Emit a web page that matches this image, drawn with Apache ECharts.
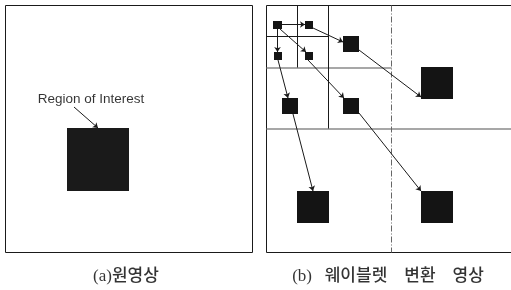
<!DOCTYPE html>
<html>
<head>
<meta charset="utf-8">
<script src="https://cdn.jsdelivr.net/npm/echarts@6/dist/echarts.min.js"></script>
<style>
  html, body { margin: 0; padding: 0; background: #fff; }
  #chart { width: 511px; height: 290px; }
</style>
</head>
<body>
<div id="chart"></div>
<script>
// diagram space = 511 x 290, y grows downward

// (a) original image frame
const frameA = [[5.5, 5.5], [252.5, 5.5], [252.5, 252.5], [5.5, 252.5], [5.5, 5.5]];

// (b) subband division lines: [x0, y0, x1, y1, kind]
const bandLines = [
  [266.5, 5.5, 511, 5.5, 'dark'],
  [266.5, 252.5, 511, 252.5, 'dark'],
  [266.5, 5.5, 266.5, 252.5, 'dark'],
  [266.5, 128.5, 511, 128.5, 'gray'],
  [391.5, 5.5, 391.5, 252.5, 'dash'],
  [266.5, 67.5, 391.5, 67.5, 'gray'],
  [328.5, 5.5, 328.5, 128.5, 'dark'],
  [297.5, 5.5, 297.5, 67.5, 'dark'],
  [266.5, 36.5, 328.5, 36.5, 'dark']
];

// dark blocks: [x0, y0, x1, y1]
const roiBlock = [[67, 128, 129, 191]];
const coefBlocks = [
  [273, 21, 282, 29],   // LL3
  [305, 21, 313, 29],   // HL3
  [274, 52, 282, 60],   // LH3
  [305, 52, 313, 60],   // HH3
  [343, 36, 359, 52],   // HL2
  [282, 98, 298, 114],  // LH2
  [343, 98, 359, 114],  // HH2
  [421, 67, 453, 99],   // HL1
  [297, 191, 329, 223], // LH1
  [421, 191, 453, 223]  // HH1
];

// parent -> child arrows
const arrows = [
  [[282, 24.5], [305, 24.5]],
  [[277.5, 29], [277.5, 52]],
  [[280, 29], [306, 52]],
  [[313, 28], [343, 42]],
  [[359, 50], [421, 97]],
  [[308, 60], [344, 98]],
  [[359, 113], [421, 191]],
  [[278, 60], [288, 98]],
  [[293, 114], [313, 191]]
];

const roiPointer = [[[74, 107], [98, 128]]];

const labels = [
  [91, 99, 'Region of Interest', 'roi'],
  [126, 277, '(a)원영상', 'cap'],
  [388, 277, '(b)   웨이블렛    변환    영상', 'cap']
];

const chart = echarts.init(document.getElementById('chart'));

function rectItem(fill) {
  return function (params, api) {
    const p0 = api.coord([api.value(0), api.value(1)]);
    const p1 = api.coord([api.value(2), api.value(3)]);
    return {
      type: 'rect',
      shape: { x: p0[0], y: p0[1], width: p1[0] - p0[0], height: p1[1] - p0[1] },
      style: { fill: fill }
    };
  };
}

const lineStyles = {
  dark: { color: '#1a1a1a', width: 1, type: 'solid', opacity: 1 },
  gray: { color: '#8a8a8a', width: 1.5, type: 'solid', opacity: 1 },
  dash: { color: '#666', width: 1, type: [6, 2, 1, 2], opacity: 1 }
};

let option = {
  animation: false,
  grid: { left: 0, right: 0, top: 0, bottom: 0 },
  xAxis: { type: 'value', min: 0, max: 511, show: false },
  yAxis: { type: 'value', min: 0, max: 290, inverse: true, show: false },
  series: [
    {
      type: 'line',
      data: frameA,
      symbol: 'none',
      lineStyle: { color: '#1a1a1a', width: 1 },
      silent: true
    },
    {
      type: 'lines',
      coordinateSystem: 'cartesian2d',
      silent: true,
      data: bandLines.map(l => ({
        coords: [[l[0], l[1]], [l[2], l[3]]],
        lineStyle: lineStyles[l[4]]
      }))
    },
    {
      type: 'custom',
      renderItem: rectItem('#1a1a1a'),
      data: roiBlock,
      silent: true
    },
    {
      type: 'custom',
      renderItem: rectItem('#141414'),
      data: coefBlocks,
      silent: true
    },
    {
      type: 'lines',
      coordinateSystem: 'cartesian2d',
      silent: true,
      symbol: ['none', 'arrow'],
      symbolSize: 5,
      lineStyle: { color: '#1a1a1a', width: 1, opacity: 1 },
      data: arrows.concat(roiPointer).map(a => ({ coords: a }))
    },
    {
      type: 'scatter',
      symbolSize: 0,
      silent: true,
      data: labels.map(t => ({
        value: [t[0], t[1]],
        label: {
          show: true,
          position: 'inside',
          formatter: t[2],
          color: '#000',
          fontFamily: t[3] === 'roi' ? 'Liberation Sans, Arial, sans-serif' : '"Liberation Serif", "Noto Sans CJK KR", serif',
          fontSize: t[3] === 'roi' ? 13.5 : 17,
          fontWeight: t[3] === 'roi' ? 'normal' : 500
        }
      }))
    }
  ]
};

chart.setOption(option);
</script>
</body>
</html>
